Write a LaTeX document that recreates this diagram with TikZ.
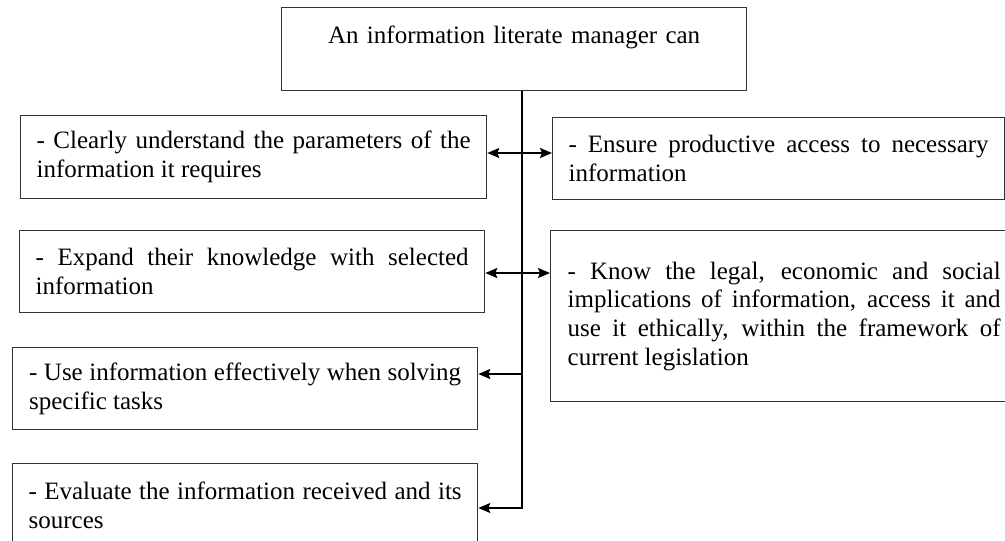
\documentclass[tikz,border=0pt]{standalone}
\usepackage{fontspec}
\setmainfont{Liberation Serif}
\usetikzlibrary{arrows.meta}
\hyphenpenalty=10000
\exhyphenpenalty=10000
\tolerance=9999
\emergencystretch=20pt
\begin{document}
\begin{tikzpicture}[x=1pt,y=-1pt,
  box/.style={draw=black!80, line width=1.3pt, rectangle, anchor=north west,
    font=\fontsize{25}{28.75}\selectfont,
    execute at begin node={\hyphenpenalty=10000\relax\tolerance=9999\relax},
    align=justify, inner xsep=0pt, inner ysep=0pt},
  conn/.style={line width=1.8pt, draw=black},
  tip/.tip={Stealth[length=12pt,width=10pt,inset=2pt]}]
\useasboundingbox (0,0) rectangle (1005,541);
\fill[white] (0,0) rectangle (1005,541);

\node[box, align=center, text width=440pt, minimum width=465pt, minimum height=83pt] (T) at (281,7)
  {An information literate manager can\\ \mbox{}};

\node[box, text width=434pt, minimum width=466pt, minimum height=83pt] (L1) at (20,115)
  {- Clearly understand the parameters of the information it requires};
\node[box, text width=433pt, minimum width=465pt, minimum height=82pt] (L2) at (19,230)
  {- Expand their knowledge with selected information};
\node[box, text width=432pt, minimum width=465pt, minimum height=82pt] (L3) at (12,347)
  {- Use information effectively when solving specific tasks};
\node[box, text width=433pt, minimum width=465pt, minimum height=83pt] (L4) at (12,463)
  {- Evaluate the information received and its sources};

\node[box, text width=420pt, minimum width=452pt, minimum height=82pt] (R1) at (552,117)
  {- Ensure productive access to necessary information};
\node[box, text width=433pt, minimum width=467pt, minimum height=171pt] (R2) at (550,230)
  {- Know the legal, economic and social implications of information, access it and use it ethically, within the framework of current legislation};

\coordinate (a1) at (522,153);
\coordinate (a2) at (522,273);
\coordinate (s3) at (522,374);
\coordinate (s4) at (522,508);

\draw[conn, -{tip}] (T.south -| s4) -- (s4) -- (L4.east |- s4);
\draw[conn, -{tip}] (s3) -- (L3.east |- s3);
\draw[conn, {tip}-{tip}] (L1.east |- a1) -- (R1.west |- a1);
\draw[conn, {tip}-{tip}] (L2.east |- a2) -- (R2.west |- a2);
\end{tikzpicture}
\end{document}
